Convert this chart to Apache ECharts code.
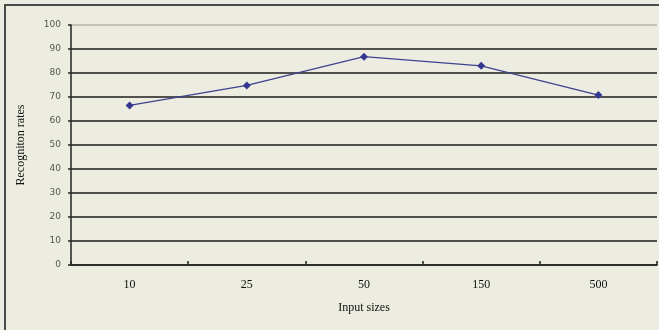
<!DOCTYPE html>
<html>
<head>
<meta charset="utf-8">
<style>
  html, body { margin: 0; padding: 0; background: #ECECE0; }
  #chart { width: 659px; height: 330px; }
</style>
<script src="https://cdn.jsdelivr.net/npm/echarts@6/dist/echarts.min.js"></script>
</head>
<body>
<div id="chart"></div>
<script>
// Input sizes on the category axis and recognition rate (%) for each
const inputSizes = ['10', '25', '50', '150', '500'];
const recognitionRates = [66.5, 74.8, 86.8, 83.0, 70.8];
const rateTicks = [0, 10, 20, 30, 40, 50, 60, 70, 80, 90, 100];

// Dark grid lines, with a lighter line at the top of the scale
const gridColors = rateTicks.map(function (v) { return v === 100 ? '#b4b4aa' : '#1e1e1e'; });

const chart = echarts.init(document.getElementById('chart'), null, { renderer: 'canvas' });

chart.setOption({
  backgroundColor: '#ECECE0',
  animation: false,
  graphic: [{
    type: 'rect',
    shape: { x: 5, y: 5, width: 720, height: 400 },
    style: { fill: 'none', stroke: '#4a4a4a', lineWidth: 2 },
    silent: true
  }],
  grid: { left: 71, right: 2, top: 25, bottom: 65, containLabel: false },
  xAxis: {
    type: 'category',
    data: inputSizes,
    boundaryGap: true,
    name: 'Input sizes',
    nameLocation: 'middle',
    nameGap: 37,
    nameTextStyle: { fontFamily: 'Liberation Serif', fontSize: 12, color: '#111' },
    axisLine: { lineStyle: { color: '#222', width: 1.5 } },
    axisTick: { show: true, inside: true, length: 4, interval: 0, lineStyle: { color: '#222', width: 1.5 } },
    axisLabel: { margin: 14, fontFamily: 'Liberation Serif', fontSize: 12, color: '#111' },
    splitLine: { show: false }
  },
  yAxis: {
    type: 'value',
    min: 0,
    max: 100,
    interval: 10,
    name: 'Recogniton rates',
    nameLocation: 'middle',
    nameGap: 44,
    nameRotate: 90,
    nameTextStyle: { fontFamily: 'Liberation Serif', fontSize: 12, color: '#111' },
    axisLine: { show: true, lineStyle: { color: '#222', width: 1.5 } },
    axisTick: { show: true, length: 3, lineStyle: { color: '#222', width: 1.5 } },
    axisLabel: {
      margin: 10,
      fontFamily: 'DejaVu Sans',
      fontSize: 9,
      color: '#555',
      formatter: function (v) { return rateTicks.indexOf(v) >= 0 ? String(v) : ''; }
    },
    splitLine: { show: true, lineStyle: { color: gridColors, width: 1.5 } }
  },
  series: [{
    type: 'line',
    data: recognitionRates,
    symbol: 'diamond',
    symbolSize: 8,
    itemStyle: { color: '#33378f' },
    lineStyle: { color: '#3d428f', width: 1.3 }
  }]
});
</script>
</body>
</html>
